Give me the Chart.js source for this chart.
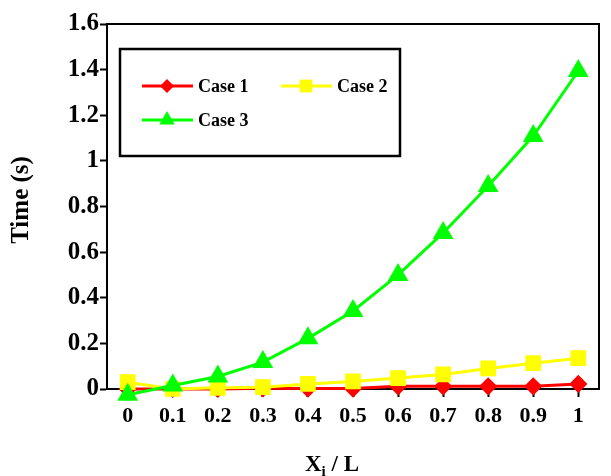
<!DOCTYPE html>
<html>
<head>
<meta charset="utf-8">
<script src="https://cdn.jsdelivr.net/npm/chart.js@4"></script>
<style>
  html, body { margin: 0; padding: 0; background: #fff; }
  #wrap { width: 611px; height: 476px; }
</style>
</head>
<body>
<div id="wrap"><canvas id="chart" width="611" height="476"></canvas></div>
<script>
const xValues = [0, 0.1, 0.2, 0.3, 0.4, 0.5, 0.6, 0.7, 0.8, 0.9, 1];
const case1 = [0, 0, 0, 0.003, 0.002, 0.002, 0.012, 0.012, 0.012, 0.012, 0.022];
const case2 = [0.03, 0, 0.005, 0.008, 0.022, 0.033, 0.048, 0.064, 0.09, 0.113, 0.135];
const case3 = [-0.025, 0.015, 0.055, 0.118, 0.222, 0.342, 0.5, 0.684, 0.89, 1.109, 1.394];
const yTicks = [0, 0.2, 0.4, 0.6, 0.8, 1, 1.2, 1.4, 1.6];
const xTicks = [0, 0.1, 0.2, 0.3, 0.4, 0.5, 0.6, 0.7, 0.8, 0.9, 1];

const FONT = "'Liberation Serif', 'Times New Roman', serif";

function toPoints(values) {
  return xValues.map((x, i) => ({ x: x, y: values[i] }));
}

// frame on top and right of the plot
const framePlugin = {
  id: "frame",
  beforeDatasetsDraw(chart) {
    const { ctx, chartArea: a } = chart;
    ctx.save();
    ctx.strokeStyle = "#000";
    ctx.lineWidth = 2;
    ctx.beginPath();
    ctx.moveTo(a.left, a.top);
    ctx.lineTo(a.right, a.top);
    ctx.lineTo(a.right, a.bottom);
    ctx.stroke();
    ctx.restore();
  },
};

// axis titles (x one has a subscript)
const titlesPlugin = {
  id: "axisTitles",
  afterDraw(chart) {
    const ctx = chart.ctx;
    ctx.save();
    ctx.fillStyle = "#000";
    ctx.textBaseline = "alphabetic";
    ctx.font = "bold 23px " + FONT;
    let x = 305;
    ctx.fillText("X", x, 471);
    x += ctx.measureText("X").width;
    ctx.font = "bold 15px " + FONT;
    ctx.fillText("i", x, 476);
    x += ctx.measureText("i").width;
    ctx.font = "bold 23px " + FONT;
    ctx.fillText(" / L", x, 471);

    ctx.translate(22, 200);
    ctx.rotate(-Math.PI / 2);
    ctx.font = "bold 25px " + FONT;
    ctx.textAlign = "center";
    ctx.textBaseline = "middle";
    ctx.fillText("Time (s)", 0, 0);
    ctx.restore();
  },
};

// boxed legend in the upper left of the plot
const legendPlugin = {
  id: "boxLegend",
  afterDraw(chart) {
    const ctx = chart.ctx;
    const slots = [
      { x: 142, y: 86 },
      { x: 281, y: 86 },
      { x: 142, y: 120 },
    ];
    ctx.save();
    ctx.fillStyle = "#fff";
    ctx.fillRect(120, 49, 280, 107);
    ctx.strokeStyle = "#000";
    ctx.lineWidth = 2.5;
    ctx.strokeRect(120, 49, 280, 107);
    chart.data.datasets.forEach((ds, i) => {
      const s = slots[i];
      ctx.strokeStyle = ds.borderColor;
      ctx.lineWidth = 3;
      ctx.beginPath();
      ctx.moveTo(s.x, s.y);
      ctx.lineTo(s.x + 51, s.y);
      ctx.stroke();
      ctx.fillStyle = ds.backgroundColor;
      Chart.helpers.drawPoint(
        ctx,
        {
          pointStyle: ds.pointStyle,
          radius: ds.pointRadius,
          rotation: 0,
          borderWidth: 0,
        },
        s.x + 25,
        s.y,
      );
      ctx.fillStyle = "#000";
      ctx.font = "bold 18px " + FONT;
      ctx.textBaseline = "middle";
      ctx.fillText(ds.label, s.x + 56, s.y + 1);
    });
    ctx.restore();
  },
};

Chart.defaults.font.family = FONT;
Chart.defaults.color = "#000";

new Chart(document.getElementById("chart"), {
  type: "line",
  data: {
    datasets: [
      {
        label: "Case 1",
        data: toPoints(case1),
        borderColor: "#ff0000",
        backgroundColor: "#ff0000",
        pointStyle: "rectRot",
        pointRadius: 7,
        borderWidth: 3,
        clip: false,
        order: 2,
      },
      {
        label: "Case 2",
        data: toPoints(case2),
        borderColor: "#ffff00",
        backgroundColor: "#ffff00",
        pointStyle: "rect",
        pointRadius: 9,
        borderWidth: 3,
        clip: false,
        order: 1,
      },
      {
        label: "Case 3",
        data: toPoints(case3),
        borderColor: "#00ff00",
        backgroundColor: "#00ff00",
        pointStyle: "triangle",
        pointRadius: 9,
        borderWidth: 3,
        clip: false,
        order: 0,
      },
    ],
  },
  options: {
    responsive: false,
    animation: false,
    layout: { padding: { top: 24, right: 4, left: 0, bottom: 0 } },
    elements: {
      line: { tension: 0 },
      point: { borderWidth: 0, hoverRadius: 9 },
    },
    plugins: {
      legend: { display: false },
      tooltip: { enabled: false },
    },
    scales: {
      x: {
        type: "linear",
        min: -0.046,
        max: 1.046,
        afterBuildTicks(scale) {
          scale.ticks = xTicks.map((v) => ({ value: v }));
        },
        afterFit(scale) {
          scale.height = 87;
        },
        grid: {
          drawOnChartArea: false,
          drawTicks: true,
          tickLength: 8,
          tickWidth: 2,
          color: "#000",
        },
        border: { display: true, color: "#000", width: 2 },
        ticks: {
          padding: 6,
          maxRotation: 0,
          autoSkip: false,
          font: { size: 22, weight: "bold" },
          callback: (v) => String(Math.round(v * 10) / 10),
        },
      },
      y: {
        type: "linear",
        min: 0,
        max: 1.6,
        afterBuildTicks(scale) {
          scale.ticks = yTicks.map((v) => ({ value: v }));
        },
        afterFit(scale) {
          scale.width = 107;
        },
        grid: {
          drawOnChartArea: false,
          drawTicks: true,
          tickLength: 7,
          tickWidth: 2,
          color: "#000",
        },
        border: { display: true, color: "#000", width: 2 },
        ticks: {
          padding: 1,
          autoSkip: false,
          font: { size: 25, weight: "bold" },
          callback: (v) => String(Math.round(v * 10) / 10),
        },
      },
    },
  },
  plugins: [framePlugin, legendPlugin, titlesPlugin],
});
</script>
</body>
</html>
